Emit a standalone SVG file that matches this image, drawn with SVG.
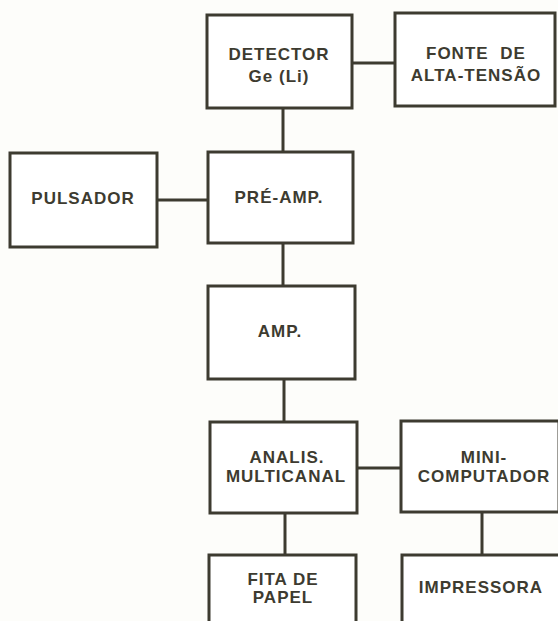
<svg xmlns="http://www.w3.org/2000/svg" width="558" height="621" viewBox="0 0 558 621">
<style>
.box{fill:#ffffff;stroke:#3d3b30;stroke-width:3}
.ln{stroke:#3d3b30;stroke-width:3;fill:none}
.t{font-family:"Liberation Sans",Arial,sans-serif;font-weight:bold;font-size:17px;fill:#3d3b30;text-anchor:middle;letter-spacing:1px}
</style>
<rect width="558" height="621" fill="#fdfdfa"/>
<g id="connectors">
<line class="ln" x1="352" y1="63" x2="395" y2="63"/>
<line class="ln" x1="283" y1="108" x2="283" y2="152"/>
<line class="ln" x1="157" y1="200" x2="208" y2="200"/>
<line class="ln" x1="283" y1="243" x2="283" y2="286"/>
<line class="ln" x1="284" y1="379" x2="284" y2="422"/>
<line class="ln" x1="357" y1="468" x2="401" y2="468"/>
<line class="ln" x1="285" y1="513" x2="285" y2="555"/>
<line class="ln" x1="482" y1="512" x2="482" y2="555"/>
</g>
<g id="detector">
<rect class="box" x="207" y="15" width="145" height="93"/>
<text class="t" x="279" y="60">DETECTOR</text>
<text class="t" x="279" y="82">Ge (Li)</text>
</g>
<g id="fonte">
<rect class="box" x="395" y="13" width="160" height="93"/>
<text class="t" x="476" y="59" style="word-spacing:6px">FONTE DE</text>
<text class="t" x="476" y="81">ALTA-TENSÃO</text>
</g>
<g id="pulsador">
<rect class="box" x="10" y="153" width="147" height="94"/>
<text class="t" x="83" y="204">PULSADOR</text>
</g>
<g id="preamp">
<rect class="box" x="208" y="152" width="145" height="91"/>
<text class="t" x="279" y="203">PRÉ-AMP.</text>
</g>
<g id="amp">
<rect class="box" x="208" y="286" width="147" height="93"/>
<text class="t" x="280" y="337">AMP.</text>
</g>
<g id="analis">
<rect class="box" x="210" y="422" width="147" height="91"/>
<text class="t" x="287" y="463">ANALIS.</text>
<text class="t" x="286" y="482">MULTICANAL</text>
</g>
<g id="mini">
<rect class="box" x="401" y="421" width="158" height="91"/>
<text class="t" x="484" y="463">MINI-</text>
<text class="t" x="484" y="482">COMPUTADOR</text>
</g>
<g id="fita">
<rect class="box" x="209" y="555" width="147" height="80"/>
<text class="t" x="283" y="585">FITA DE</text>
<text class="t" x="283" y="603">PAPEL</text>
</g>
<g id="impressora">
<rect class="box" x="402" y="555" width="158" height="80"/>
<text class="t" x="481" y="593">IMPRESSORA</text>
</g>
</svg>
